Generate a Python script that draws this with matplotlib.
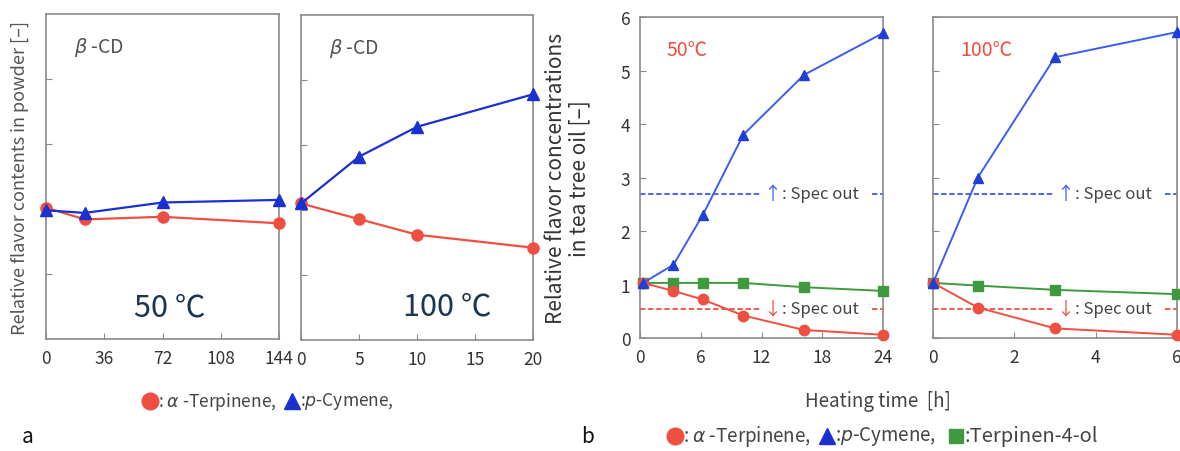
import matplotlib.pyplot as plt
from matplotlib.lines import Line2D

plt.rcParams['font.family'] = ['Noto Sans CJK JP', 'DejaVu Sans']
plt.rcParams['mathtext.fontset'] = 'dejavusans'

# --- a: flavor contents in beta-CD powder ---
t_a50 = [0, 24, 72, 144]
terp_a50 = [1.01, 0.92, 0.94, 0.89]
cym_a50 = [0.99, 0.97, 1.05, 1.07]

t_a100 = [0, 5, 10, 20]
terp_a100 = [1.05, 0.93, 0.81, 0.71]
cym_a100 = [1.05, 1.41, 1.64, 1.89]

# --- b: flavor concentrations in tea tree oil ---
t_b50 = [0.3, 3.3, 6.2, 10.2, 16.2, 24]
terp_b50 = [1.03, 0.88, 0.72, 0.42, 0.15, 0.06]
cym_b50 = [1.03, 1.37, 2.30, 3.80, 4.92, 5.70]
t4ol_b50 = [1.03, 1.03, 1.03, 1.03, 0.95, 0.88]

t_b100 = [0, 1.1, 3.0, 6.0]
terp_b100 = [1.03, 0.57, 0.18, 0.06]
cym_b100 = [1.03, 3.00, 5.25, 5.72]
t4ol_b100 = [1.03, 0.98, 0.90, 0.82]

spec_up = 2.7
spec_down = 0.55

RED = '#ef4f40'
BLUE_A = '#1a30d0'
BLUE_B = '#3d5cf0'
BLUE_BM = '#1f3fd8'
GREEN = '#3f9a3f'
GRAY = '#444444'
EDGE = '#8a8a8a'

fig = plt.figure(figsize=(11.8, 4.52), dpi=100)


def style_box(ax):
    for s in ax.spines.values():
        s.set_color(EDGE)
        s.set_linewidth(1.2)
    ax.tick_params(direction='in', length=4, color=EDGE, labelsize=12.5,
                   labelcolor='#333333', pad=7)


# panel a, 50 C
a1 = fig.add_axes([0.039, 0.2478, 0.1975, 0.719])
a1.plot(t_a50, terp_a50, color=RED, lw=1.6, marker='o', ms=8, clip_on=False, zorder=3)
a1.plot(t_a50, cym_a50, color=BLUE_A, lw=1.6, marker='^', ms=9, clip_on=False, zorder=4)
a1.set_xlim(0, 144)
a1.set_ylim(0, 2.5)
a1.set_xticks([0, 36, 72, 108, 144])
a1.set_yticks([0.5, 1.0, 1.5, 2.0])
a1.set_yticklabels([])
style_box(a1)
a1.text(0.12, 0.9, r'$\beta$ -CD', transform=a1.transAxes, fontsize=14,
        color='#555555', va='center')
a1.text(0.53, 0.1, '50 ℃', transform=a1.transAxes, fontsize=22,
        color='#1c3553', ha='center', va='center')
a1.set_ylabel('Relative flavor contents in powder [–]', fontsize=13,
              color='#555555', labelpad=5)

# panel a, 100 C
a2 = fig.add_axes([0.2551, 0.2456, 0.1966, 0.719])
a2.plot(t_a100, terp_a100, color=RED, lw=1.6, marker='o', ms=8, clip_on=False, zorder=3)
a2.plot(t_a100, cym_a100, color=BLUE_A, lw=1.6, marker='^', ms=9, clip_on=False, zorder=4)
a2.set_xlim(0, 20)
a2.set_ylim(0, 2.5)
a2.set_xticks([0, 5, 10, 15, 20])
a2.set_yticks([0.5, 1.0, 1.5, 2.0])
a2.set_yticklabels([])
style_box(a2)
a2.text(0.12, 0.9, r'$\beta$ -CD', transform=a2.transAxes, fontsize=14,
        color='#555555', va='center')
a2.text(0.63, 0.105, '100 ℃', transform=a2.transAxes, fontsize=22,
        color='#1c3553', ha='center', va='center')


def spec_lines(ax, right_start, left_end, arrow_x, text_x):
    for yv, col, arrow in [(spec_up, BLUE_B, '↑'), (spec_down, RED, '↓')]:
        ax.axhline(yv, xmin=0, xmax=left_end, color=col, lw=1.3, ls=(0, (3, 1.5)))
        ax.axhline(yv, xmin=right_start, xmax=1, color=col, lw=1.3, ls=(0, (3, 1.5)))
        ax.text(arrow_x, yv, arrow, transform=ax.get_yaxis_transform(), color=col,
                fontsize=13, va='center', ha='center')
        ax.text(text_x, yv, ': Spec out', transform=ax.get_yaxis_transform(),
                color=GRAY, fontsize=12, va='center', ha='left')


# panel b, 50 C
b1 = fig.add_axes([0.5424, 0.25, 0.2059, 0.71])
b1.plot(t_b50, t4ol_b50, color=GREEN, lw=1.4, marker='s', ms=7, clip_on=False, zorder=3)
b1.plot(t_b50, terp_b50, color=RED, lw=1.4, marker='o', ms=7.5, clip_on=False, zorder=4)
b1.plot(t_b50, cym_b50, color=BLUE_B, lw=1.4, marker='^', ms=7.5, mfc=BLUE_BM,
        mec=BLUE_BM, clip_on=False, zorder=5)
spec_lines(b1, 0.955, 0.50, 0.545, 0.585)
b1.set_xlim(0, 24)
b1.set_ylim(0, 6)
b1.set_xticks([0, 6, 12, 18, 24])
b1.set_yticks(range(7))
style_box(b1)
b1.text(0.11, 0.9, '50℃', transform=b1.transAxes, fontsize=14, color=RED, va='center')
b1.set_ylabel('Relative flavor concentrations\nin tea tree oil [–]', fontsize=15,
              color='#333333', labelpad=22, linespacing=1.05)

# panel b, 100 C
b2 = fig.add_axes([0.7907, 0.25, 0.2068, 0.71])
b2.plot(t_b100, t4ol_b100, color=GREEN, lw=1.4, marker='s', ms=7, clip_on=False, zorder=3)
b2.plot(t_b100, terp_b100, color=RED, lw=1.4, marker='o', ms=7.5, clip_on=False, zorder=4)
b2.plot(t_b100, cym_b100, color=BLUE_B, lw=1.4, marker='^', ms=7.5, mfc=BLUE_BM,
        mec=BLUE_BM, clip_on=False, zorder=5)
spec_lines(b2, 0.95, 0.49, 0.54, 0.58)
b2.set_xlim(0, 6)
b2.set_ylim(0, 6)
b2.set_xticks([0, 2, 4, 6])
b2.set_yticks(range(7))
b2.set_yticklabels([])
style_box(b2)
b2.text(0.11, 0.9, '100℃', transform=b2.transAxes, fontsize=14, color=RED, va='center')

fig.text(878 / 1180, 1 - 402 / 452, 'Heating time  [h]', fontsize=13.5,
         color='#444444', ha='center', va='center')


# legends built from marker + text pieces
def legend_piece(xpix, ypix, marker, color, label, ms, fs):
    fy = 1 - ypix / 452
    fig.add_artist(Line2D([xpix / 1180], [fy], marker=marker, color=color,
                          ms=ms, transform=fig.transFigure, ls='none'))
    fig.text((xpix + 8) / 1180, fy, label, fontsize=fs, color='#444444',
             va='center', ha='left')


legend_piece(150, 402, 'o', RED, r': $\alpha$ -Terpinene,', 12, 12.5)
legend_piece(292, 402, '^', BLUE_A, r':$p$-Cymene,', 11, 12.5)

legend_piece(675, 437, 'o', RED, r': $\alpha$ -Terpinene,', 12, 13.5)
legend_piece(827, 437, '^', BLUE_A, r':$p$-Cymene,', 11, 13.5)
legend_piece(956, 437, 's', GREEN, ':Terpinen-4-ol', 10, 14.5)

fig.text(28 / 1180, 1 - 437 / 452, 'a', fontsize=15, color='#111111', ha='center', va='center')
fig.text(588 / 1180, 1 - 437 / 452, 'b', fontsize=15, color='#111111', ha='center', va='center')

fig.savefig('out.png', dpi=100)
